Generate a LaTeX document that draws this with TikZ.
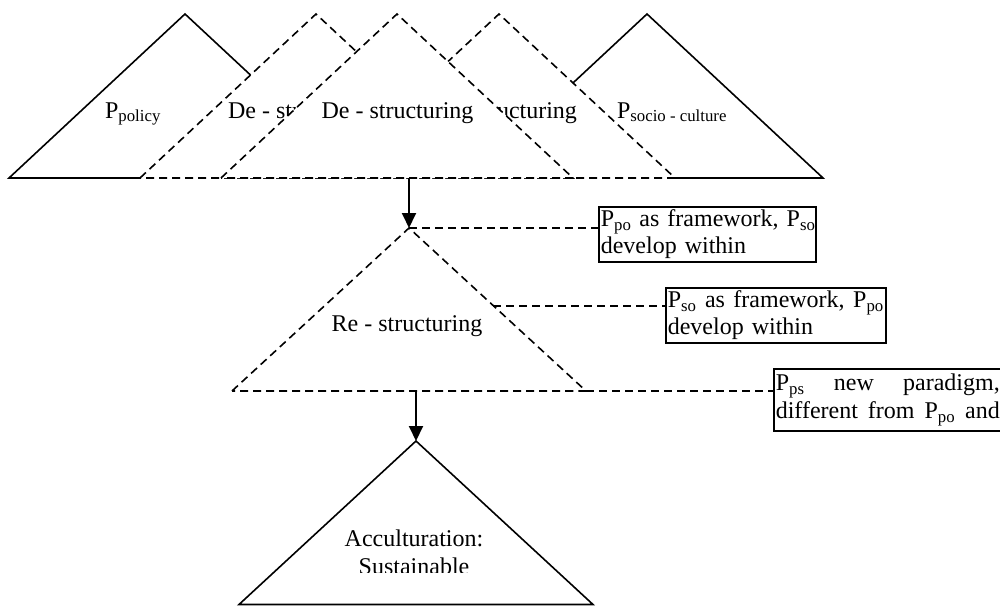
\documentclass[tikz,border=0pt]{standalone}
\usepackage{fontspec}
\setmainfont{Liberation Serif}
\usetikzlibrary{arrows.meta}
\newcommand{\lowsub}[1]{\textsubscript{#1}}
\tikzset{
  solidtri/.style={line width=1.6pt, line join=miter},
  dashtri/.style={line width=1.6pt, dash pattern=on 8pt off 5pt, fill=white},
  lbl/.style={font=\fontsize{24}{27.6}\selectfont, inner sep=0pt},
  textbox/.style={draw, line width=1.6pt, font=\fontsize{24}{27.6}\selectfont,
    align=left, inner xsep=2pt, inner ysep=2pt, anchor=north west},
  link/.style={line width=1.6pt, dash pattern=on 8pt off 5pt},
  flow/.style={line width=1.9pt, -{Triangle[length=15pt,width=14pt]}},
}
\begin{document}
\begin{tikzpicture}[x=1pt,y=-1pt]
\clip (0,0) rectangle (1000,605);
% P_policy
\fill[white] (9,178) -- (185,14) -- (361,178) -- cycle;
\draw[solidtri] (140,178) -- (9,178) -- (185,14) -- (361,178);
\node[lbl, anchor=base] (ppolicy) at (133,118) {P\lowsub{policy}};
% P_socio-culture
\fill[white] (471,178) -- (647,14) -- (823,178) -- cycle;
\draw[solidtri] (675,178) -- (823,178) -- (647,14) -- (471,178);
\node[lbl, anchor=base] (psocio) at (672,118) {P\lowsub{socio - culture}};
% De-structuring triangles
\draw[dashtri] (140,178) -- (316,14) -- (492,178) -- cycle;
\node[lbl, anchor=base] (de1) at (304,118) {De - structuring};
\draw[dashtri] (323,178) -- (499,14) -- (675,178) -- cycle;
\node[lbl, anchor=base] (de3) at (501,118) {De - structuring};
\draw[dashtri] (221,178) -- (397,14) -- (573,178) -- cycle;
\node[lbl, anchor=base] (de2) at (397.5,118) {De - structuring};
% coordinates
\coordinate (topbase) at (409,178);
\coordinate (rtop) at (409,228);
\coordinate (rleft) at (232,391);
\coordinate (rright) at (586,391);
\coordinate (rmid) at (493,306);
\coordinate (midbase) at (416,391);
\coordinate (atop) at (416,441);
\coordinate (aleft) at (239,604.5);
\coordinate (aright) at (593,604.5);
% Re-structuring
\draw[dashtri] (rleft) -- (rtop) -- (rright) -- cycle;
\node[lbl, anchor=base] (relabel) at (407,331.5) {Re - structuring};
% boxes
\node[textbox, text width=213pt, minimum height=55pt] (box1) at (598,206)
  {\makebox[213pt][l]{P\lowsub{po} \hfill as \hfill framework, \hfill P\lowsub{so}}\\develop within};
\node[textbox, text width=216pt, minimum height=55pt] (box2) at (665,287)
  {\makebox[216pt][l]{P\lowsub{so} \hfill as \hfill framework, \hfill P\lowsub{po}}\\develop within};
\node[textbox, text width=224pt, minimum height=62pt] (box3) at (773,368)
  {\makebox[224pt][l]{P\lowsub{ps} \hfill new \hfill paradigm,}\\
   \makebox[224pt][l]{different \hfill from \hfill P\lowsub{po} \hfill and}};
% links
\draw[link] (rtop) -- (rtop -| box1.west);
\draw[link] (rmid) -- (rmid -| box2.west);
\draw[link] (rright) -- (rright -| box3.west);
% arrows
\draw[flow] (topbase) -- (rtop);
\draw[flow] (midbase) -- (atop);
% Acculturation
\draw[solidtri, fill=white] (aleft) -- (atop) -- (aright) -- cycle;
\node[lbl, anchor=base] (acc1) at (414,546) {Acculturation:};
\begin{scope}
  \clip (0,0) rectangle (1000,572);
  \node[lbl, anchor=base] (acc2) at (414,574) {Sustainable};
\end{scope}
\end{tikzpicture}
\end{document}
